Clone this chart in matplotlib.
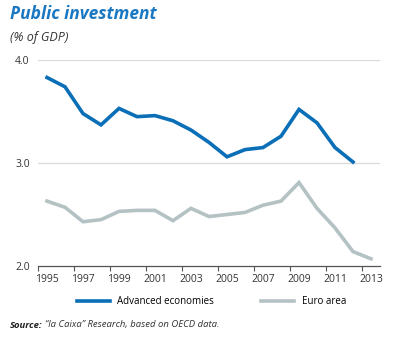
import numpy as np
import matplotlib.pyplot as plt

plt.rcParams['font.family'] = ['Open Sans', 'DejaVu Sans']

# Données (en % du PIB)
years_adv = np.arange(1995, 2013)
advanced = [3.83, 3.74, 3.48, 3.37, 3.53, 3.45, 3.46, 3.41, 3.32, 3.20,
            3.06, 3.13, 3.15, 3.26, 3.52, 3.39, 3.15, 3.01]
years_euro = np.arange(1995, 2014)
euro = [2.63, 2.57, 2.43, 2.45, 2.53, 2.54, 2.54, 2.44, 2.56, 2.48,
        2.50, 2.52, 2.59, 2.63, 2.81, 2.56, 2.37, 2.14, 2.07]
year_labels = np.arange(1995, 2014, 2)
y_ticks = [2.0, 3.0, 4.0]

blue = '#0a6fb7'
grey = '#b4c2c4'

fig = plt.figure(figsize=(3.95, 3.38), dpi=100)
ax = fig.add_axes([38/395, 1-266/338, (380-38)/395, (266-60)/338])

ax.plot(years_adv, advanced, color=blue, lw=2.6, solid_joinstyle='miter', label='Advanced economies')
ax.plot(years_euro, euro, color=grey, lw=2.6, solid_joinstyle='miter', label='Euro area')

ax.set_xlim(1994.5, 2013.5)
ax.set_ylim(2.0, 4.0)

# Grille horizontale
for v in y_ticks[1:]:
    ax.axhline(v, color='#d9d9d9', lw=0.9, zorder=0)

ax.set_yticks(y_ticks)
ax.set_yticklabels([f'{v:.1f}' for v in y_ticks], fontsize=7.5, color='#333333')
ax.tick_params(axis='y', length=0, pad=6)

# Graduations entre les années, étiquettes sur les années impaires
ax.set_xticks(np.arange(1994.5, 2013, 2))
ax.set_xticklabels([])
ax.set_xticks(year_labels, minor=True)
ax.set_xticklabels([str(y) for y in year_labels], minor=True, fontsize=7.5, color='#333333')
ax.tick_params(axis='x', which='major', length=3.5, width=0.8, color='#555555', direction='out')
ax.tick_params(axis='x', which='minor', length=0, pad=6)

for s in ['top', 'right', 'left']:
    ax.spines[s].set_visible(False)
ax.spines['bottom'].set_color('#555555')
ax.spines['bottom'].set_linewidth(0.9)

fig.legend(loc='center', bbox_to_anchor=(0.535, 1-302/338), ncol=2, frameon=False,
           fontsize=7, handlelength=3.4, columnspacing=4.8, handletextpad=0.8)

fig.text(10/395, 1-14/338, 'Public investment', fontsize=12.5, fontweight='bold',
         style='italic', color='#1a78c2', va='center')
fig.text(10/395, 1-37/338, '(% of GDP)', fontsize=9, style='italic', color='#333333', va='center')

# Source : partie en gras puis suite en italique
src = fig.text(10/395, 1-325/338, 'Source:', fontsize=6.8, fontweight='bold', style='italic',
               color='#222222', va='center')
renderer = fig.canvas.get_renderer()
bb = src.get_window_extent(renderer=renderer)
fig.text((bb.x1 + 2) / fig.bbox.width, 1-325/338, '“la Caixa” Research, based on OECD data.',
         fontsize=6.8, style='italic', color='#333333', va='center')

fig.savefig('out.png', dpi=100)
